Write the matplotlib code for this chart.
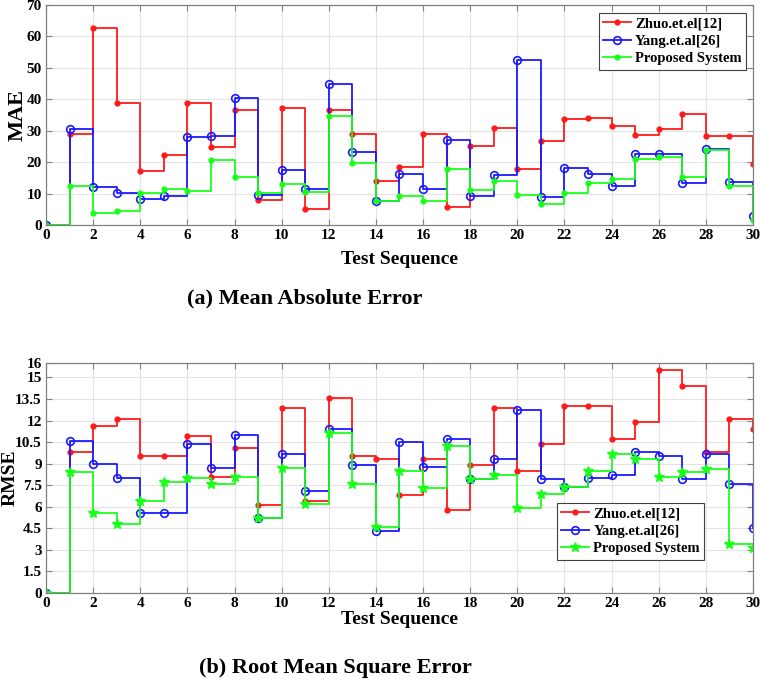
import matplotlib
matplotlib.use("Agg")
import matplotlib.pyplot as plt

plt.rcParams["font.family"] = ["Liberation Serif", "DejaVu Serif"]
plt.rcParams["font.weight"] = "bold"

seq = list(range(31))
series_names = ["Zhuo.et.el[12]", "Yang.et.al[26]", "Proposed System"]

# (a) MAE
mae_zhuo = [0, 28.9, 62.6, 38.9, 17.3, 22.3, 38.7, 24.8, 36.5, 7.8,
            37.1, 5.1, 36.6, 28.8, 14.1, 18.6, 28.9, 5.8, 25.1, 31.0,
            17.9, 26.8, 33.6, 33.9, 31.5, 28.7, 30.6, 35.4, 28.3, 28.3, 19.5]
mae_yang = [0, 30.4, 12.2, 10.3, 8.4, 9.3, 27.9, 28.3, 40.3, 9.5,
            17.6, 11.6, 44.8, 23.1, 7.6, 16.1, 11.6, 27.0, 9.3, 15.9,
            52.6, 8.8, 18.0, 16.3, 12.3, 22.5, 22.7, 13.4, 24.2, 13.6, 2.9]
mae_prop = [0, 12.4, 3.8, 4.3, 10.2, 11.4, 10.9, 20.8, 15.2, 10.1,
            12.9, 10.5, 34.8, 19.8, 7.6, 9.3, 7.6, 17.8, 11.1, 14.1,
            9.4, 6.8, 10.3, 13.5, 14.6, 21.1, 21.7, 15.4, 23.8, 12.5, 1.5]

# (b) RMSE
rmse_zhuo = [0, 9.8, 11.6, 12.1, 9.55, 9.5, 10.9, 8.1, 10.1, 6.1,
             12.9, 6.4, 13.6, 9.5, 9.3, 6.8, 9.3, 5.8, 8.9, 12.9,
             8.5, 10.4, 13.0, 13.0, 10.7, 11.9, 15.5, 14.4, 9.8, 12.1, 11.4]
rmse_yang = [0, 10.6, 9.0, 8.0, 5.6, 5.6, 10.4, 8.7, 11.0, 5.25,
             9.7, 7.1, 11.4, 8.9, 4.3, 10.5, 8.8, 10.7, 7.9, 9.3,
             12.7, 7.9, 7.4, 8.0, 8.2, 9.8, 9.5, 7.9, 9.7, 7.6, 4.5]
rmse_prop = [0, 8.4, 5.6, 4.8, 6.4, 7.7, 8.0, 7.6, 8.1, 5.25,
             8.7, 6.2, 11.1, 7.6, 4.6, 8.5, 7.3, 10.2, 7.9, 8.2,
             5.9, 6.9, 7.4, 8.5, 9.7, 9.3, 8.1, 8.4, 8.6, 3.4, 3.1]

rmse_ticks = [0, 1.5, 3, 4.5, 6, 7.5, 9, 10.5, 12, 13.5, 15, 16]
rmse_labels = ["0", "1.5", "3", "4.5", "6", "7.5", "9", "10.5", "12", "13.5", "15", "16"]

fig = plt.figure(figsize=(7.6, 6.8), dpi=100)
W, H = 760, 680
AX_L, AX_R = 46, 753


def make_axes(top, bottom):
    return fig.add_axes([AX_L / W, 1 - bottom / H, (AX_R - AX_L) / W, (bottom - top) / H])


def style(ax, ylabel, ylabel_size, ylabel_x, xlabel_y):
    ax.set_xlim(0, 30)
    ax.set_xticks(range(0, 31, 2))
    ax.grid(True, color="#e3e3e3", linewidth=0.8)
    ax.set_axisbelow(True)
    ax.tick_params(direction="in", top=True, right=True, length=4, color="#808080",
                   labelsize=11, pad=3)
    for lab in ax.get_xticklabels() + ax.get_yticklabels():
        lab.set_fontweight("bold")
    for s in ax.spines.values():
        s.set_color("#808080")
        s.set_linewidth(0.9)
    ax.set_ylabel(ylabel, fontsize=ylabel_size, fontweight="bold", va="center")
    ax.set_xlabel("Test Sequence", fontsize=14, fontweight="bold")
    # label spots in axes fraction, measured from pixel positions
    ax.yaxis.set_label_coords((ylabel_x - AX_L) / (AX_R - AX_L), 0.5)
    ax.xaxis.set_label_coords(0.5, xlabel_y)


def draw(ax, vals, green_marker):
    zhuo, yang, prop = vals
    ax.step(seq, zhuo, where="post", color="#ff1a1a", marker=".", markersize=7, lw=1.3,
            label=series_names[0])
    ax.step(seq, yang, where="post", color="#1a1aff", marker="o", markersize=5.5,
            mfc="none", mew=1.2, lw=1.3, label=series_names[1])
    ax.step(seq, prop, where="post", color="#1aff1a", marker=green_marker,
            markersize=7, lw=1.3, label=series_names[2])


def legend(ax, loc, anchor):
    leg = ax.legend(loc=loc, bbox_to_anchor=anchor, prop={"size": 10.5, "weight": "bold"},
                    fancybox=False, framealpha=1, edgecolor="#404040", borderpad=0.3,
                    handlelength=1.9, handletextpad=0.3, labelspacing=0.28,
                    borderaxespad=0)
    leg.get_frame().set_linewidth(0.8)


ax1 = make_axes(5, 225)
draw(ax1, (mae_zhuo, mae_yang, mae_prop), ".")
ax1.set_ylim(0, 70)
ax1.set_yticks(range(0, 71, 10))
style(ax1, "MAE", 16, 18, -(251 - 225) / 220)
legend(ax1, "upper right", ((746 - AX_L) / (AX_R - AX_L), (225 - 13) / 220))

ax2 = make_axes(363, 593)
draw(ax2, (rmse_zhuo, rmse_yang, rmse_prop), "*")
ax2.set_ylim(0, 16)
ax2.set_yticks(rmse_ticks)
ax2.set_yticklabels(rmse_labels)
style(ax2, "RMSE", 14, 10, -(611 - 593) / 230)
legend(ax2, "upper left", ((557 - AX_L) / (AX_R - AX_L), (593 - 503) / 230))

fig.text(305 / W, 1 - 298 / H, "(a) Mean Absolute Error", ha="center", va="center",
         fontsize=16, fontweight="bold")
fig.text(335 / W, 1 - 668 / H, "(b) Root Mean Square Error", ha="center", va="center",
         fontsize=16, fontweight="bold")

fig.savefig("out.png", dpi=100)
